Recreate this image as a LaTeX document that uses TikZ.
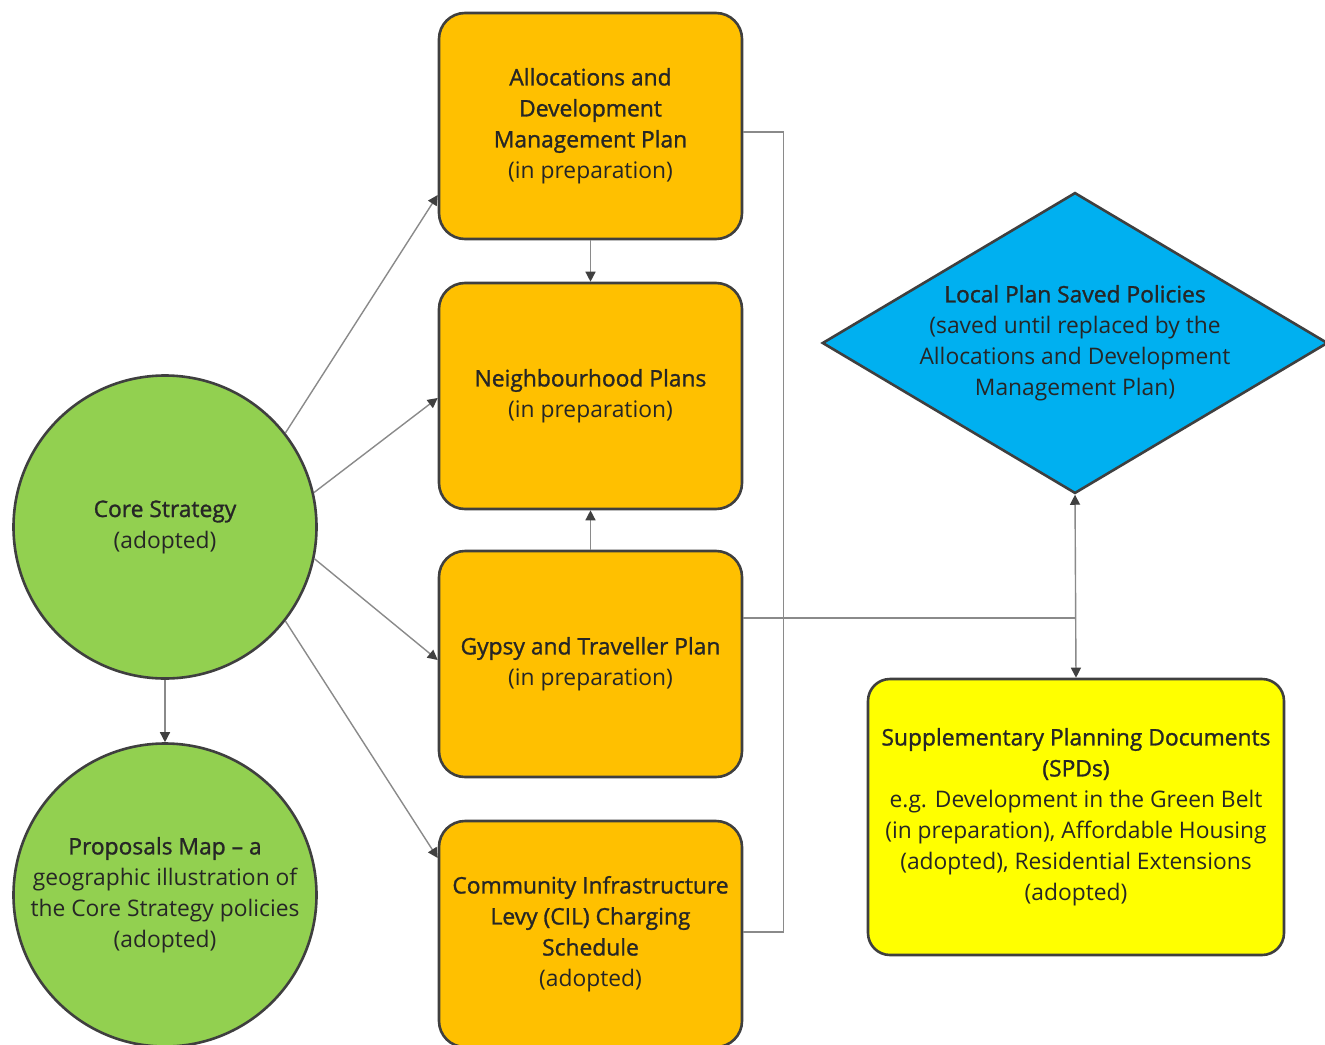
\documentclass[tikz,border=0pt]{standalone}
\usepackage{fontspec}
\setmainfont{Open Sans}
\newfontfamily\medfont[FakeBold=1.2]{Open Sans}
\usetikzlibrary{shapes.geometric,arrows.meta}
\definecolor{orangefill}{HTML}{FFC000}
\definecolor{greenfill}{HTML}{92D050}
\definecolor{bluefill}{HTML}{00B0F0}
\definecolor{yellowfill}{HTML}{FFFF00}
\definecolor{edge}{HTML}{3F3F3F}
\definecolor{conn}{HTML}{8A8A8A}
\definecolor{tipc}{HTML}{404040}
\definecolor{txt}{HTML}{262626}
\newcommand{\ttl}[1]{{\medfont #1}}
\tikzset{
  base/.style={draw=edge, line width=2.6pt, align=center, text=txt,
    font=\fontsize{22.8}{31}\selectfont, inner sep=0pt},
  obox/.style={base, fill=orangefill, rectangle, rounded corners=26pt,
    minimum width=303pt, minimum height=226pt},
  gcirc/.style={base, fill=greenfill, circle, minimum size=303pt},
  ydoc/.style={base, fill=yellowfill, rectangle, rounded corners=22pt,
    minimum width=416pt, minimum height=276pt},
  bdia/.style={base, fill=bluefill, diamond, aspect=1.68,
    minimum width=504pt, minimum height=300pt},
  conline/.style={draw=conn, line width=1.4pt},
  arr/.style={conline, -{Triangle[length=10pt,width=10pt,color=tipc]}},
  darr/.style={conline, {Triangle[length=10pt,width=10pt,color=tipc]}-{Triangle[length=10pt,width=10pt,color=tipc]}}
}
\begin{document}
\begin{tikzpicture}[x=1pt,y=-1pt]
\useasboundingbox (0,0) rectangle (1325,1044);
\clip (0,0) rectangle (1325,1044);
\fill[white] (0,0) rectangle (1325,1044);

\node[obox] (alloc) at (590.5,126) {\ttl{Allocations and}\\\ttl{Development}\\\ttl{Management Plan}\\(in preparation)};
\node[obox] (neigh) at (590.5,396) {\ttl{Neighbourhood Plans}\\(in preparation)};
\node[obox] (gypsy) at (590.5,664) {\ttl{Gypsy and Traveller Plan}\\(in preparation)};
\node[obox] (cil) at (590.5,934) {\ttl{Community Infrastructure}\\\ttl{Levy (CIL) Charging}\\\ttl{Schedule}\\(adopted)};

\node[gcirc] (core) at (165,527) {\ttl{Core Strategy}\\(adopted)};
\node[gcirc] (prop) at (165,895) {\ttl{Proposals Map – a}\\geographic illustration of\\the Core Strategy policies\\(adopted)};

\node[bdia] (local) at (1075,343) {\ttl{Local Plan Saved Policies}\\(saved until replaced by the\\Allocations and Development\\Management Plan)};

\node[ydoc] (spd) at (1076,817) {\ttl{Supplementary Planning Documents}\\\ttl{(SPDs)}\\e.g. Development in the Green Belt\\(in preparation), Affordable Housing\\(adopted), Residential Extensions\\(adopted)};

% connectors from core strategy
\draw[arr] (core.38.5) -- ([yshift=-69pt]alloc.west);
\draw[arr] (core.13.6) -- ([yshift=-2pt]neigh.west);
\draw[arr] (core.-12) -- ([yshift=4pt]gypsy.west);
\draw[arr] (core.-38.8) -- ([yshift=76pt]cil.west);
\draw[arr] (core.south) -- (prop.north);

% between orange boxes
\draw[arr] (alloc.south) -- (neigh.north);
\draw[arr] (gypsy.north) -- (neigh.south);

% bracket on the right
\draw[conline] ([yshift=-6pt]alloc.east) -- ++(40,0) |- ([yshift=2pt]cil.east);

% gypsy to local / spd
\coordinate (junc) at ([yshift=46pt]gypsy.east -| local.south);
\draw[conline] ([yshift=46pt]gypsy.east) -- (junc);
\draw[darr] (local.south) -- (spd.north);
\end{tikzpicture}
\end{document}
